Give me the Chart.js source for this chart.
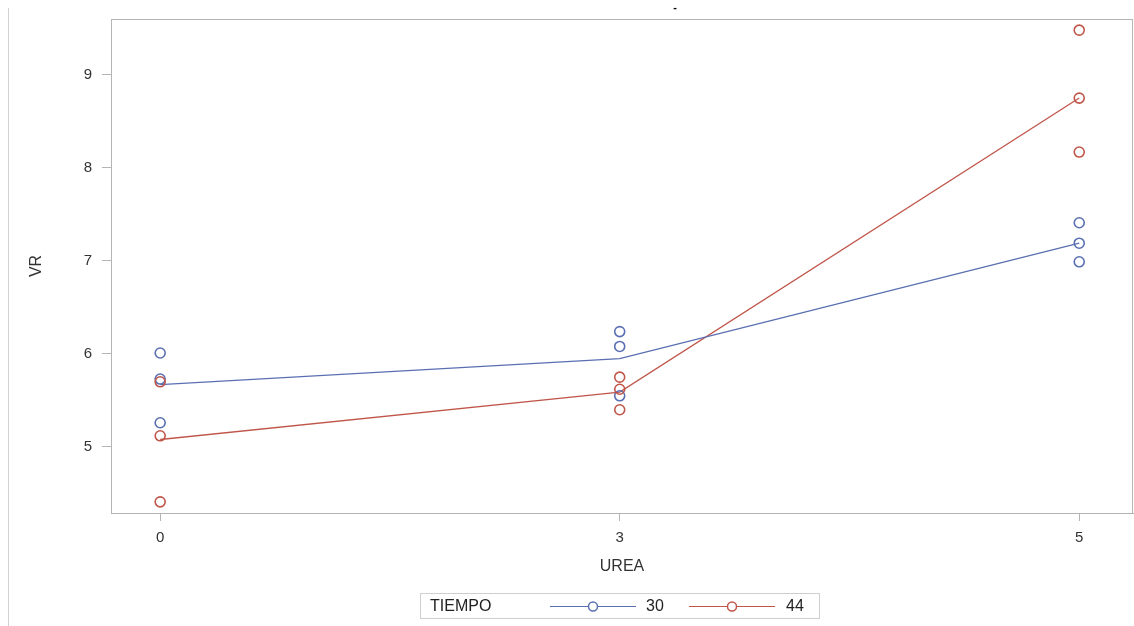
<!DOCTYPE html>
<html>
<head>
<meta charset="utf-8">
<script src="https://cdn.jsdelivr.net/npm/chart.js@4"></script>
<style>
html,body{margin:0;padding:0;background:#fff;overflow:hidden;}
#wrap{position:relative;width:1134px;height:626px;}
canvas{display:block;}
</style>
</head>
<body>
<div id="wrap"><canvas id="c" width="1134" height="626"></canvas></div>
<script>
// ---- data ----
const ureaLabels = ['0', '3', '5'];
const tiempoLabels = ['30', '44'];
const obs30 = [[6.01, 5.73, 5.26], [6.24, 6.08, 5.55], [7.41, 7.19, 6.99]];
const obs44 = [[5.70, 5.12, 4.41], [5.75, 5.62, 5.40], [9.48, 8.75, 8.17]];
const mean30 = [5.67, 5.95, 7.19];
const mean44 = [5.08, 5.59, 8.75];
const yTicks = [5, 6, 7, 8, 9];
const titleText = '-';
const xTitle = 'UREA';
const yTitle = 'VR';
const legendTitle = 'TIEMPO';

const BLUE = '#5a6fb2';
const RED = '#c0564a';
const FONT = '"Liberation Sans", Arial, sans-serif';

function toPoints(groups) {
  const pts = [];
  groups.forEach((g, i) => g.forEach(v => pts.push({x: i, y: v})));
  return pts;
}
function meanPoints(arr) { return arr.map((v, i) => ({x: i, y: v})); }

const extras = {
  id: 'extras',
  beforeDraw(chart) {
    const ctx = chart.ctx;
    ctx.save();
    ctx.fillStyle = '#fff';
    ctx.fillRect(0, 0, chart.width, chart.height);
    ctx.restore();
  },
  afterDraw(chart) {
    const ctx = chart.ctx;
    const a = chart.chartArea;
    ctx.save();
    // frame
    ctx.strokeStyle = '#b4b4b4';
    ctx.lineWidth = 1;
    ctx.strokeRect(a.left + 0.5, a.top + 0.5, a.right - a.left - 1, a.bottom - a.top);
    // left border line
    ctx.strokeStyle = '#d0d0d0';
    ctx.beginPath(); ctx.moveTo(8.5, 8); ctx.lineTo(8.5, 626); ctx.stroke();
    // tiny title
    ctx.fillStyle = '#000';
    ctx.font = 'bold 11px ' + FONT;
    ctx.textAlign = 'center'; ctx.textBaseline = 'middle';
    ctx.fillText(titleText, 675, 8);
    // axis titles
    ctx.fillStyle = '#333';
    ctx.font = '16px ' + FONT;
    ctx.fillText(xTitle, (a.left + a.right) / 2, 567);
    ctx.save();
    ctx.translate(37, (a.top + a.bottom) / 2);
    ctx.rotate(-Math.PI / 2);
    ctx.fillText(yTitle, 0, 0);
    ctx.restore();
    // legend
    ctx.strokeStyle = '#cfcfcf';
    ctx.strokeRect(420.5, 593.5, 399, 25);
    ctx.fillStyle = '#222';
    ctx.font = '16px ' + FONT;
    ctx.textAlign = 'left';
    ctx.fillText(legendTitle, 430, 606.5);
    const items = [
      {x0: 550, x1: 636, cx: 593, tx: 646, color: BLUE, label: tiempoLabels[0]},
      {x0: 689, x1: 775, cx: 732, tx: 786, color: RED, label: tiempoLabels[1]}
    ];
    items.forEach(it => {
      ctx.strokeStyle = it.color;
      ctx.lineWidth = 1.2;
      ctx.beginPath(); ctx.moveTo(it.x0, 606.5); ctx.lineTo(it.x1, 606.5); ctx.stroke();
      ctx.fillStyle = '#fff';
      ctx.beginPath(); ctx.arc(it.cx, 606.5, 4.5, 0, Math.PI * 2); ctx.fill();
      ctx.lineWidth = 1.5;
      ctx.stroke();
      ctx.fillStyle = '#222';
      ctx.fillText(it.label, it.tx, 606.5);
    });
    ctx.restore();
  }
};

const pointStyleOpts = {
  showLine: false,
  pointStyle: 'circle',
  pointRadius: 5,
  pointHoverRadius: 5,
  pointBorderWidth: 1.6,
  pointBackgroundColor: 'rgba(255,255,255,0)'
};

new Chart(document.getElementById('c'), {
  type: 'scatter',
  data: {
    datasets: [
      {label: tiempoLabels[0] + ' mean', data: meanPoints(mean30), showLine: true, borderColor: BLUE, borderWidth: 1.3, pointRadius: 0, order: 3},
      {label: tiempoLabels[1] + ' mean', data: meanPoints(mean44), showLine: true, borderColor: RED, borderWidth: 1.3, pointRadius: 0, order: 4},
      Object.assign({label: tiempoLabels[0], data: toPoints(obs30), borderColor: BLUE, pointBorderColor: BLUE, order: 2}, pointStyleOpts),
      Object.assign({label: tiempoLabels[1], data: toPoints(obs44), borderColor: RED, pointBorderColor: RED, order: 1}, pointStyleOpts)
    ]
  },
  options: {
    responsive: false,
    animation: false,
    events: [],
    layout: {autoPadding: false, padding: {left: 0, top: 19, right: 1, bottom: 0}},
    plugins: {legend: {display: false}, tooltip: {enabled: false}, title: {display: false}},
    scales: {
      x: {
        type: 'linear',
        min: -0.107,
        max: 2.117,
        afterBuildTicks(scale) { scale.ticks = ureaLabels.map((l, i) => ({value: i})); },
        afterFit(scale) { scale.height = 113; scale.paddingLeft = 0; scale.paddingRight = 0; },
        ticks: {
          callback: (v) => ureaLabels[v],
          color: '#333',
          font: {family: FONT, size: 15},
          padding: 8,
          maxRotation: 0
        },
        grid: {display: true, drawOnChartArea: false, drawTicks: true, tickLength: 8, color: '#b4b4b4'},
        border: {display: true, color: '#b4b4b4'}
      },
      y: {
        type: 'linear',
        min: 4.29,
        max: 9.60,
        afterBuildTicks(scale) { scale.ticks = yTicks.map(v => ({value: v})); },
        afterFit(scale) { scale.width = 111; scale.paddingTop = 0; scale.paddingBottom = 0; },
        ticks: {
          callback: (v) => String(v),
          color: '#333',
          font: {family: FONT, size: 15},
          padding: 10
        },
        grid: {display: true, drawOnChartArea: false, drawTicks: true, tickLength: 9, color: '#b4b4b4'},
        border: {display: true, color: '#b4b4b4'}
      }
    }
  },
  plugins: [extras]
});
</script>
</body>
</html>
